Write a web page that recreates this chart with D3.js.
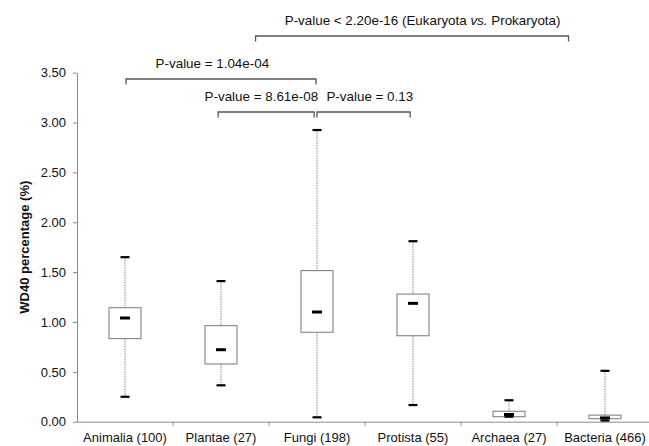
<!DOCTYPE html>
<html><head><meta charset="utf-8">
<script src="https://cdn.jsdelivr.net/npm/d3@7"></script>
<style>body{margin:0;background:#fff}svg{display:block;font-family:"Liberation Sans",Arial,sans-serif}</style>
</head><body><svg id="c" width="649" height="446"></svg>
<script>
const categories = ["Animalia (100)","Plantae (27)","Fungi (198)","Protista (55)","Archaea (27)","Bacteria (466)"];
const whiskerLow  = [0.25, 0.365, 0.044, 0.167, 0.05, 0.012];
const q1          = [0.833, 0.579, 0.897, 0.862, 0.05, 0.03];
const median      = [1.04, 0.722, 1.10, 1.187, 0.072, 0.038];
const q3          = [1.143, 0.963, 1.515, 1.28, 0.105, 0.066];
const whiskerHigh = [1.65, 1.41, 2.925, 1.81, 0.215, 0.51];
const yTicks = [0, 0.5, 1, 1.5, 2, 2.5, 3, 3.5];
// brackets: category-index span, level (y value), label
const brackets = [
  {from:0.51, to:2.49, level:3.437, label:"P-value = 1.04e-04", tx:1.41},
  {from:1.47, to:2.47, level:3.106, label:"P-value = 8.61e-08", tx:1.92},
  {from:2.50, to:3.47, level:3.106, label:"P-value = 0.13", tx:3.05},
  {from:1.86, to:5.12, level:3.868, label:"P-value < 2.20e-16 (Eukaryota ", italic:"vs.", rest:" Prokaryota)", tx:3.60}
];

const svg = d3.select("#c");
const mLeft = 77, mRight = 653, mTop = 72.7, mBottom = 421.7;
const x = d3.scaleBand().domain(categories).range([mLeft, mRight]).padding(0);
const xi = d3.scaleLinear().domain([0, categories.length]).range([mLeft, mRight]);
const y = d3.scaleLinear().domain([0, 3.5]).range([mBottom, mTop]);
const axisColor = "#8a8a8a";

// Y axis
const ya = svg.append("g").attr("transform", `translate(${mLeft},0)`)
  .call(d3.axisLeft(y).tickValues(yTicks).tickFormat(d3.format(".2f")).tickSize(4).tickSizeOuter(0).tickPadding(7));
ya.select(".domain").attr("stroke", axisColor);
ya.selectAll(".tick line").attr("stroke", axisColor);
ya.selectAll(".tick text").attr("font-size", 13).attr("fill", "#111").attr("font-family", "Liberation Sans, Arial, sans-serif");

// X axis: line + boundary ticks
const xa = svg.append("g").attr("transform", `translate(0,${mBottom})`)
  .call(d3.axisBottom(x).tickSize(0).tickPadding(0));
xa.select(".domain").attr("stroke", axisColor);
xa.selectAll(".tick text").attr("font-size", 13).attr("fill", "#111").attr("dy", 20).attr("font-family", "Liberation Sans, Arial, sans-serif");
svg.append("g").selectAll("line").data(categories.slice(1)).join("line")
  .attr("x1", d => x(d)).attr("x2", d => x(d))
  .attr("y1", mBottom).attr("y2", mBottom + 4).attr("stroke", axisColor);

// Y label
svg.append("text").attr("transform", `translate(29,${(mTop+mBottom)/2}) rotate(-90)`)
  .attr("text-anchor", "middle").attr("font-weight", "bold").attr("font-size", 13).attr("fill", "#111")
  .text("WD40 percentage (%)");

// Boxes
const bw = 32;
const g = svg.append("g");
categories.forEach((c, i) => {
  const cx = x(c) + x.bandwidth() / 2;
  g.append("line").attr("x1", cx).attr("x2", cx).attr("y1", y(whiskerHigh[i])).attr("y2", y(q3[i]))
    .attr("stroke", "#888").attr("stroke-width", 1).attr("stroke-dasharray", "1.5,1");
  g.append("line").attr("x1", cx).attr("x2", cx).attr("y1", y(q1[i])).attr("y2", y(whiskerLow[i]))
    .attr("stroke", "#888").attr("stroke-width", 1).attr("stroke-dasharray", "1.5,1");
  g.append("rect").attr("x", cx - bw / 2).attr("y", y(q3[i])).attr("width", bw).attr("height", y(q1[i]) - y(q3[i]))
    .attr("fill", "#fff").attr("stroke", "#777").attr("stroke-width", 1);
  [whiskerHigh[i], whiskerLow[i]].forEach(v => {
    g.append("line").attr("x1", cx - 4.5).attr("x2", cx + 4.5).attr("y1", y(v)).attr("y2", y(v))
      .attr("stroke", "#000").attr("stroke-width", 2.2);
  });
  g.append("line").attr("x1", cx - 5).attr("x2", cx + 5).attr("y1", y(median[i])).attr("y2", y(median[i]))
    .attr("stroke", "#000").attr("stroke-width", 3);
});

// Brackets
const bg = svg.append("g");
brackets.forEach(b => {
  const yy = y(b.level), x1 = xi(b.from), x2 = xi(b.to);
  bg.append("path").attr("d", `M${x1},${yy + 5.5}V${yy}H${x2}V${yy + 5.5}`)
    .attr("fill", "none").attr("stroke", "#555").attr("stroke-width", 1.3);
  const t = bg.append("text").attr("x", xi(b.tx)).attr("y", yy - (b.italic ? 11 : 10.5))
    .attr("text-anchor", "middle").attr("font-size", 13.4).attr("fill", "#111");
  t.append("tspan").text(b.label);
  if (b.italic) {
    t.append("tspan").attr("font-style", "italic").text(b.italic);
    t.append("tspan").text(b.rest);
  }
});
</script></body></html>
